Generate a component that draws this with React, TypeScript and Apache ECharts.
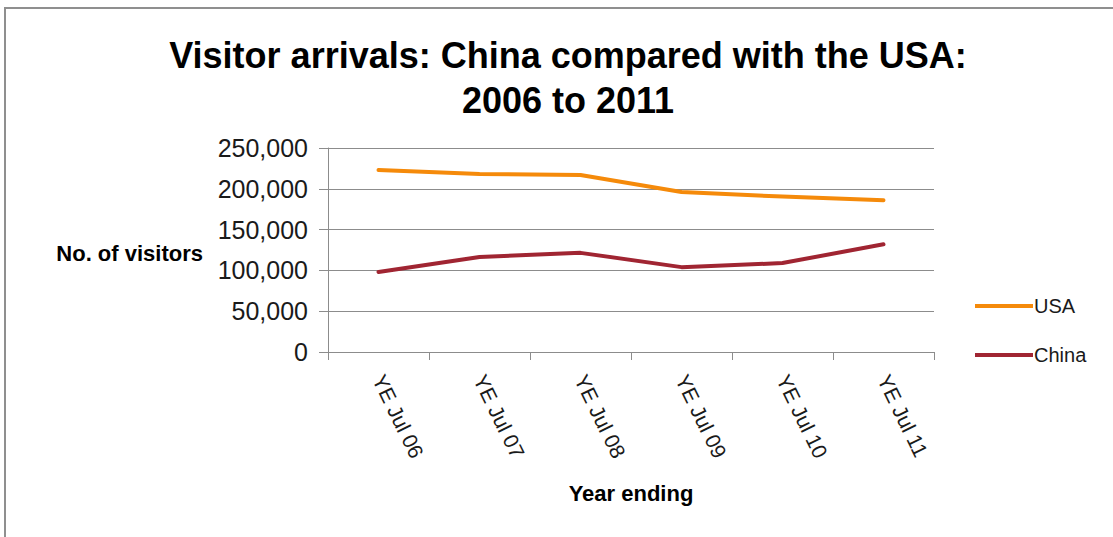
import React, { useEffect, useRef } from "react";
import * as echarts from "echarts";

const categories = ["YE Jul 06", "YE Jul 07", "YE Jul 08", "YE Jul 09", "YE Jul 10", "YE Jul 11"];
const usaVisitors = [223000, 218000, 217000, 196000, 190500, 186000];
const chinaVisitors = [98000, 116500, 121500, 104000, 109000, 132000];
const seriesNames = ["USA", "China"];
const seriesColors = ["#f58a0a", "#a02532"];

const TEXT_FONT = "'Liberation Sans', Arial, sans-serif";

export default function App() {
  const ref = useRef<HTMLDivElement>(null);

  useEffect(() => {
    if (!ref.current) return;
    const chart = echarts.init(ref.current, null, { renderer: "svg" });
    chart.setOption({
      animation: false,
      backgroundColor: "#ffffff",
      title: {
        text: "Visitor arrivals: China compared with the USA:\n2006 to 2011",
        left: 563,
        textAlign: "center",
        top: 28,
        textStyle: {
          fontFamily: TEXT_FONT,
          fontWeight: "bold",
          fontSize: 36,
          lineHeight: 45,
          color: "#000000",
        },
      },
      graphic: [
        {
          type: "rect",
          shape: { x: 5, y: 8, width: 1300, height: 700 },
          style: { fill: "none", stroke: "#8f8f8f", lineWidth: 2 },
          silent: true,
          z: -10,
        },
        {
          type: "text",
          x: 203,
          y: 253,
          style: {
            text: "No. of visitors",
            fontFamily: TEXT_FONT,
            fontWeight: "bold",
            fontSize: 22,
            fill: "#000000",
            textAlign: "right",
            textVerticalAlign: "middle",
          },
        },
      ],
      legend: {
        orient: "vertical",
        left: 970,
        top: 290,
        itemWidth: 58,
        itemHeight: 4,
        itemGap: 27,
        icon: "rect",
        data: seriesNames,
        textStyle: {
          fontFamily: TEXT_FONT,
          fontSize: 20,
          lineHeight: 22,
          color: "#1a1a1a",
          padding: [0, 0, 0, -4],
        },
      },
      grid: {
        left: 328,
        right: 179,
        top: 148,
        bottom: 185,
      },
      xAxis: {
        type: "category",
        data: categories,
        boundaryGap: true,
        name: "Year ending",
        nameLocation: "middle",
        nameGap: 130,
        nameTextStyle: {
          fontFamily: TEXT_FONT,
          fontWeight: "bold",
          fontSize: 22,
          color: "#000000",
        },
        axisLine: { show: true, lineStyle: { color: "#8c8c8c", width: 1 } },
        axisTick: { show: true, length: 8, alignWithLabel: false, lineStyle: { color: "#8c8c8c" } },
        axisLabel: {
          rotate: -64,
          margin: 24,
          fontFamily: TEXT_FONT,
          fontSize: 21,
          color: "#1a1a1a",
        },
      },
      yAxis: {
        type: "value",
        min: 0,
        max: 250000,
        interval: 50000,
        axisLine: { show: true, lineStyle: { color: "#8c8c8c", width: 1 } },
        axisTick: { show: true, length: 9, lineStyle: { color: "#8c8c8c" } },
        splitLine: { show: true, lineStyle: { color: "#8c8c8c", width: 1 } },
        axisLabel: {
          margin: 20,
          fontFamily: TEXT_FONT,
          fontSize: 25,
          color: "#1a1a1a",
          formatter: (v: number) => v.toLocaleString("en-US"),
        },
      },
      series: [
        {
          name: seriesNames[0],
          type: "line",
          data: usaVisitors,
          symbol: "none",
          lineStyle: { color: seriesColors[0], width: 4, cap: "round", join: "round" },
          itemStyle: { color: seriesColors[0] },
        },
        {
          name: seriesNames[1],
          type: "line",
          data: chinaVisitors,
          symbol: "none",
          lineStyle: { color: seriesColors[1], width: 4, cap: "round", join: "round" },
          itemStyle: { color: seriesColors[1] },
        },
      ],
    });
    return () => chart.dispose();
  }, []);

  return (
    <div
      ref={ref}
      style={{ position: "fixed", left: 0, top: 0, width: 1113, height: 537 }}
    />
  );
}
